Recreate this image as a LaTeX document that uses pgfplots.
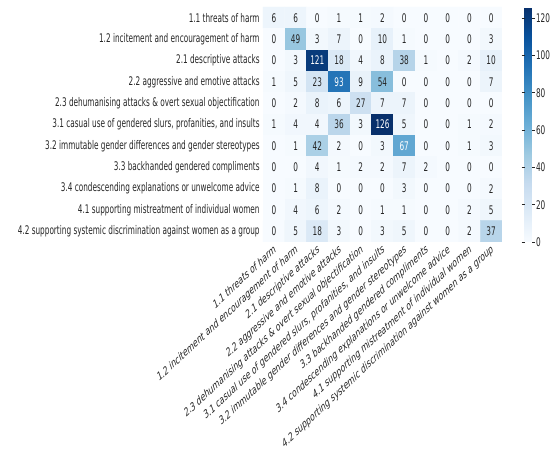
\documentclass[border=0pt]{standalone}
\usepackage{pgfplots}
\pgfplotsset{compat=1.18}
\usepackage{fontspec}
\setmainfont{DejaVu Sans}
\definecolor{txt}{RGB}{38,38,38}
\newcommand{\lblfont}{\fontsize{11.9}{13}\selectfont}
\begin{document}
\begin{tikzpicture}
\begin{axis}[
  name=hm,
  scale only axis,
  width=239pt, height=235pt,
  xmin=-0.5, xmax=10.5, ymin=-0.5, ymax=10.5,
  enlargelimits=false,
  y dir=reverse,
  axis line style={draw=none},
  major tick length=0pt,
  xtick={0,...,10}, ytick={0,...,10},
  xticklabels={
    {1.1 threats of harm},
    {1.2 incitement and encouragement of harm},
    {2.1 descriptive attacks},
    {2.2 aggressive and emotive attacks},
    {2.3 dehumanising attacks \& overt sexual objectification},
    {3.1 casual use of gendered slurs, profanities, and insults},
    {3.2 immutable gender differences and gender stereotypes},
    {3.3 backhanded gendered compliments},
    {3.4 condescending explanations or unwelcome advice},
    {4.1 supporting mistreatment of individual women},
    {4.2 supporting systemic discrimination against women as a group}},
  yticklabels={
    {1.1 threats of harm},
    {1.2 incitement and encouragement of harm},
    {2.1 descriptive attacks},
    {2.2 aggressive and emotive attacks},
    {2.3 dehumanising attacks \& overt sexual objectification},
    {3.1 casual use of gendered slurs, profanities, and insults},
    {3.2 immutable gender differences and gender stereotypes},
    {3.3 backhanded gendered compliments},
    {3.4 condescending explanations or unwelcome advice},
    {4.1 supporting mistreatment of individual women},
    {4.2 supporting systemic discrimination against women as a group}},
  ticklabel style={font=\lblfont, text=txt},
  yticklabel style={xscale=0.615, anchor=east, xshift=-2pt},
  xticklabel style={xscale=0.615, rotate=30, anchor=north east, inner sep=1pt},
  /pgf/number format/assume math mode=true,
  colormap={blues}{rgb255(0cm)=(247,251,255); rgb255(1cm)=(222,235,247);
    rgb255(2cm)=(198,219,239); rgb255(3cm)=(158,202,225); rgb255(4cm)=(107,174,214);
    rgb255(5cm)=(66,146,198); rgb255(6cm)=(33,113,181); rgb255(7cm)=(8,81,156);
    rgb255(8cm)=(8,48,107)},
  point meta min=0, point meta max=126,
  colorbar,
  colorbar style={
    at={(parent axis.north east)}, anchor=north west, xshift=14pt,
    width=7pt,
    axis line style={draw=none},
    ytick={0,20,...,120},
    major tick length=3pt,
    tick align=outside,
    tick style={draw=txt, line width=0.6pt},
    yticklabel style={font=\lblfont, text=txt, xscale=0.615, xshift=-1pt},
    /pgf/number format/assume math mode=true,
  },
]
\addplot[
  matrix plot*,
  mesh/cols=11,
  point meta=explicit,
  draw=none,
  visualization depends on={value \thisrow{C} \as \cval},
  nodes near coords={\ifnum\cval>60 \color{white}\fi\cval},
  every node near coord/.append style={anchor=center, font=\lblfont, text=txt, xscale=0.615},
] table[x=x, y=y, meta=C, row sep=\\] {
x y C\\
0 0 6\\ 1 0 6\\ 2 0 0\\ 3 0 1\\ 4 0 1\\ 5 0 2\\ 6 0 0\\ 7 0 0\\ 8 0 0\\ 9 0 0\\ 10 0 0\\
0 1 0\\ 1 1 49\\ 2 1 3\\ 3 1 7\\ 4 1 0\\ 5 1 10\\ 6 1 1\\ 7 1 0\\ 8 1 0\\ 9 1 0\\ 10 1 3\\
0 2 0\\ 1 2 3\\ 2 2 121\\ 3 2 18\\ 4 2 4\\ 5 2 8\\ 6 2 38\\ 7 2 1\\ 8 2 0\\ 9 2 2\\ 10 2 10\\
0 3 1\\ 1 3 5\\ 2 3 23\\ 3 3 93\\ 4 3 9\\ 5 3 54\\ 6 3 0\\ 7 3 0\\ 8 3 0\\ 9 3 0\\ 10 3 7\\
0 4 0\\ 1 4 2\\ 2 4 8\\ 3 4 6\\ 4 4 27\\ 5 4 7\\ 6 4 7\\ 7 4 0\\ 8 4 0\\ 9 4 0\\ 10 4 0\\
0 5 1\\ 1 5 4\\ 2 5 4\\ 3 5 36\\ 4 5 3\\ 5 5 126\\ 6 5 5\\ 7 5 0\\ 8 5 0\\ 9 5 1\\ 10 5 2\\
0 6 0\\ 1 6 1\\ 2 6 42\\ 3 6 2\\ 4 6 0\\ 5 6 3\\ 6 6 67\\ 7 6 0\\ 8 6 0\\ 9 6 1\\ 10 6 3\\
0 7 0\\ 1 7 0\\ 2 7 4\\ 3 7 1\\ 4 7 2\\ 5 7 2\\ 6 7 7\\ 7 7 2\\ 8 7 0\\ 9 7 0\\ 10 7 0\\
0 8 0\\ 1 8 1\\ 2 8 8\\ 3 8 0\\ 4 8 0\\ 5 8 0\\ 6 8 3\\ 7 8 0\\ 8 8 0\\ 9 8 0\\ 10 8 2\\
0 9 0\\ 1 9 4\\ 2 9 6\\ 3 9 2\\ 4 9 0\\ 5 9 1\\ 6 9 1\\ 7 9 0\\ 8 9 0\\ 9 9 2\\ 10 9 5\\
0 10 0\\ 1 10 5\\ 2 10 18\\ 3 10 3\\ 4 10 0\\ 5 10 3\\ 6 10 5\\ 7 10 0\\ 8 10 0\\ 9 10 2\\ 10 10 37\\
};
\end{axis}
\pgfresetboundingbox
\path ([shift={(-263pt,7pt)}]hm.north west) rectangle ([shift={(287pt,-450pt)}]hm.north west);
\end{tikzpicture}
\end{document}
